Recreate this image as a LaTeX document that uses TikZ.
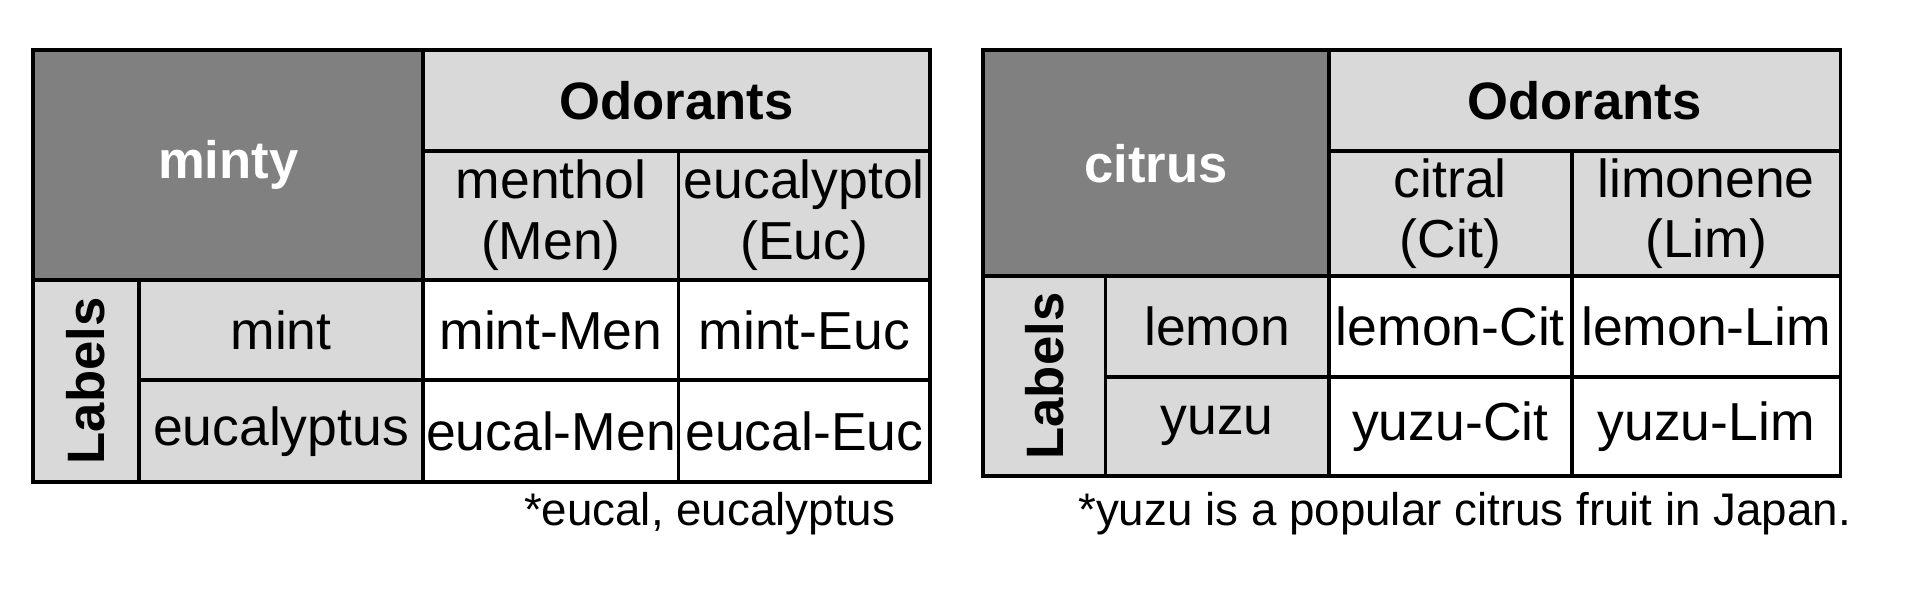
\documentclass[tikz,border=0pt]{standalone}
\usepackage{fontspec}
\setmainfont{Liberation Sans}
\usepackage{tikz}
\usetikzlibrary{positioning}
\definecolor{darkcell}{gray}{0.5}
\definecolor{lightcell}{gray}{0.85}
\tikzset{
  cell/.style={draw=black, line width=0.9pt, inner sep=0pt, align=center,
    font=\fontsize{12.4pt}{14pt}\selectfont},
  dark/.style={cell, fill=darkcell, text=white, font=\fontsize{12.2pt}{14pt}\selectfont\bfseries},
  light/.style={cell, fill=lightcell},
  white/.style={cell, fill=white},
  head/.style={light, font=\fontsize{12.2pt}{14pt}\selectfont\bfseries},
  note/.style={font=\fontsize{10.6pt}{13pt}\selectfont}
}
% \cellbox{style}{name}{x1}{y1}{x2}{y2}{text}
\newcommand{\cellbox}[7]{%
  \node[#1, minimum width={(#5-#3)*0.01cm}, minimum height={(#6-#4)*0.01cm}]
    (#2) at ({(#3+#5)/2*0.01}, {-(#4+#6)/2*0.01}) {#7};}
\begin{document}
\begin{tikzpicture}
\useasboundingbox (0,0) rectangle (15.68,-4.887);
% left table
\cellbox{dark}{minty}{27}{41}{345}{228}{\raisebox{-0.08cm}{minty}}
\cellbox{head}{odorL}{345}{41}{758}{123}{Odorants}
\cellbox{light}{men}{345}{123}{553}{228}{menthol\\(Men)}
\cellbox{light}{euc}{553}{123}{758}{228}{eucalyptol\\(Euc)}
\cellbox{light}{labL}{27}{228}{113}{393}{}
\node[rotate=90, font=\fontsize{12.2pt}{14pt}\selectfont\bfseries] at (labL) {Labels};
\cellbox{light}{mint}{113}{228}{345}{310}{mint}
\cellbox{light}{eucal}{113}{310}{345}{393}{eucalyptus}
\cellbox{white}{mintmen}{345}{228}{553}{310}{mint-Men}
\cellbox{white}{minteuc}{553}{228}{758}{310}{mint-Euc}
\cellbox{white}{eucalmen}{345}{310}{553}{393}{eucal-Men}
\cellbox{white}{eucaleuc}{553}{310}{758}{393}{eucal-Euc}
\node[note] (noteL) at (5.78,-4.18) {*eucal, eucalyptus};
% right table
\cellbox{dark}{citrus}{801}{41}{1083}{225}{\raisebox{-0.08cm}{citrus}}
\cellbox{head}{odorR}{1083}{41}{1500}{123}{Odorants}
\cellbox{light}{cit}{1083}{123}{1281}{225}{citral\\(Cit)}
\cellbox{light}{lim}{1281}{123}{1500}{225}{limonene\\(Lim)}
\cellbox{light}{labR}{801}{225}{901}{388}{}
\node[rotate=90, font=\fontsize{12.2pt}{14pt}\selectfont\bfseries] at (labR) {Labels};
\cellbox{light}{lemon}{901}{225}{1083}{307}{lemon}
\cellbox{light}{yuzu}{901}{307}{1083}{388}{yuzu}
\cellbox{white}{lemcit}{1083}{225}{1281}{307}{lemon-Cit}
\cellbox{white}{lemlim}{1281}{225}{1500}{307}{lemon-Lim}
\cellbox{white}{yuzcit}{1083}{307}{1281}{388}{yuzu-Cit}
\cellbox{white}{yuzlim}{1281}{307}{1500}{388}{yuzu-Lim}
\node[note] (noteR) at (11.93,-4.18) {*yuzu is a popular citrus fruit in Japan.};
\end{tikzpicture}
\end{document}
